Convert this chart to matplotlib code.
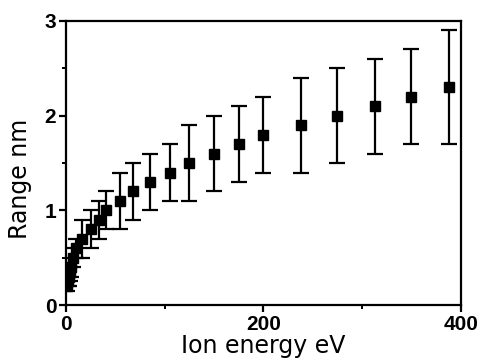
import matplotlib
matplotlib.use("Agg")
import matplotlib.pyplot as plt
from matplotlib.ticker import MultipleLocator

energy = [1, 2, 3, 4, 5, 7, 10, 16, 25, 33, 40, 55, 67.5, 85, 105, 125, 150, 175, 200, 238, 275, 313, 350, 388]
range_nm = [0.2, 0.25, 0.3, 0.35, 0.4, 0.5, 0.6, 0.7, 0.8, 0.9, 1.0, 1.1, 1.2, 1.3, 1.4, 1.5, 1.6, 1.7, 1.8, 1.9, 2.0, 2.1, 2.2, 2.3]
err_low = [0.15, 0.2, 0.2, 0.25, 0.3, 0.4, 0.5, 0.5, 0.6, 0.7, 0.8, 0.8, 0.9, 1.0, 1.1, 1.1, 1.2, 1.3, 1.4, 1.4, 1.5, 1.6, 1.7, 1.7]
err_high = [0.25, 0.3, 0.35, 0.4, 0.5, 0.6, 0.7, 0.9, 1.0, 1.1, 1.2, 1.4, 1.5, 1.6, 1.7, 1.9, 2.0, 2.1, 2.2, 2.4, 2.5, 2.6, 2.7, 2.9]

xticks = [0, 200, 400]
xlabels = ["0", "200", "400"]
yticks = [0, 1, 2, 3]
ylabels = ["0", "1", "2", "3"]

fig = plt.figure(figsize=(4.82, 3.62), dpi=100)
ax = fig.add_axes([0.137, 0.157, 0.819, 0.785])

lo = [r - l for r, l in zip(range_nm, err_low)]
hi = [h - r for r, h in zip(range_nm, err_high)]
ax.errorbar(energy, range_nm, yerr=[lo, hi], fmt="s", color="black",
            markersize=6.5, elinewidth=1.6, capsize=5.5, capthick=1.6)

ax.set_xlim(0, 400)
ax.set_ylim(0, 3)
ax.set_xticks(xticks)
ax.set_xticklabels(xlabels)
ax.set_yticks(yticks)
ax.set_yticklabels(ylabels)
ax.xaxis.set_minor_locator(MultipleLocator(100))
ax.yaxis.set_minor_locator(MultipleLocator(0.5))

for s in ax.spines.values():
    s.set_linewidth(1.6)
ax.tick_params(which="major", direction="out", length=5, width=1.6, pad=2)
ax.tick_params(which="minor", direction="out", length=3, width=1.4)
for lab in ax.get_xticklabels() + ax.get_yticklabels():
    lab.set_fontfamily("Liberation Sans")
    lab.set_fontweight("bold")
    lab.set_fontsize(15)

ax.set_xlabel("Ion energy eV", fontsize=17, family="DejaVu Sans", labelpad=0)
ax.set_ylabel("Range nm", fontsize=17, family="DejaVu Sans")
ax.yaxis.set_label_coords(-0.086, 0.444)

fig.savefig("out.png", dpi=100)
